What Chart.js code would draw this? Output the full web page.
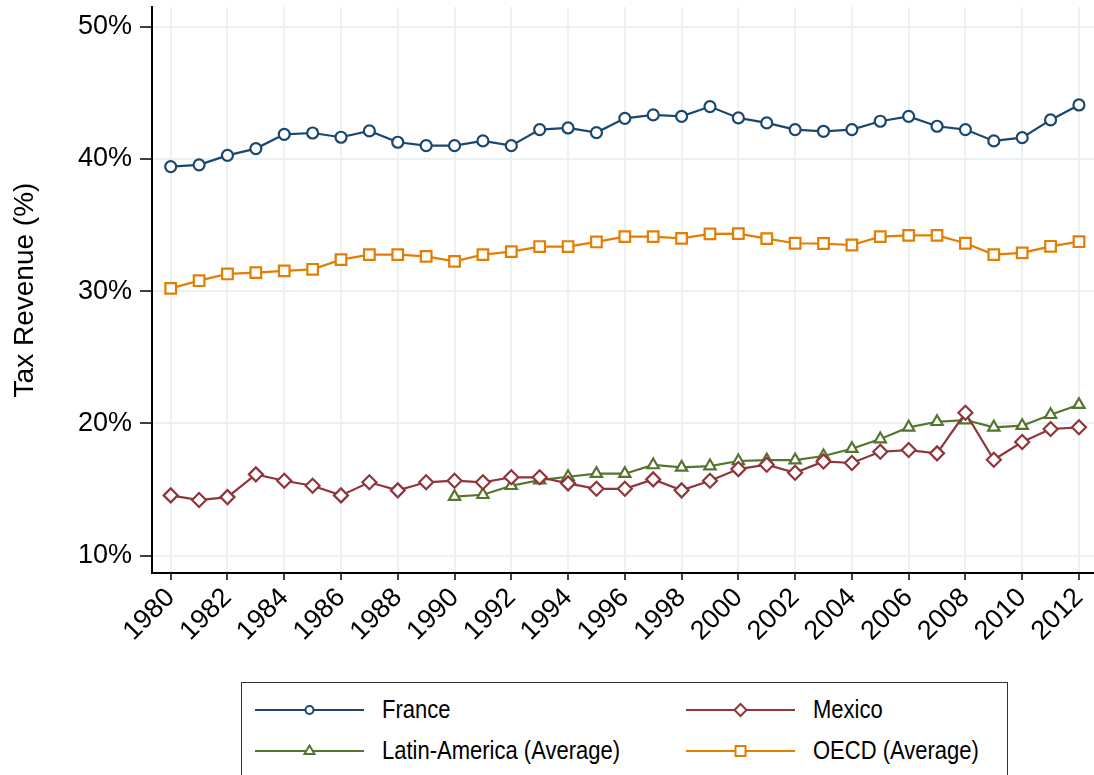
<!DOCTYPE html>
<html><head><meta charset="utf-8">
<script src="https://cdn.jsdelivr.net/npm/chart.js@4.4.1/dist/chart.umd.min.js"></script>
<style>
html,body{margin:0;padding:0;background:#fff;}
body{width:1094px;height:775px;overflow:hidden;position:relative;font-family:'Liberation Sans',Arial,Helvetica,sans-serif;}
#wrap{position:absolute;left:0;top:0;width:1094px;height:775px;}
#legend{position:absolute;left:241px;top:682px;width:767px;height:130px;border:1.5px solid #333;box-sizing:border-box;background:#fff;}
.item{position:absolute;height:34px;}
.item svg{position:absolute;left:0;top:0;}
.item span{position:absolute;top:50%;font-size:25px;line-height:25px;margin-top:-13px;color:#000;white-space:nowrap;transform:scaleX(0.88);transform-origin:left center;}
</style></head>
<body>
<div id="wrap"><canvas id="c" width="1094" height="775"></canvas></div>
<div id="legend"></div>
<script>
const years = [1980,1981,1982,1983,1984,1985,1986,1987,1988,1989,1990,1991,1992,1993,1994,1995,1996,1997,1998,1999,2000,2001,2002,2003,2004,2005,2006,2007,2008,2009,2010,2011,2012];
const france = [39.42,39.55,40.27,40.78,41.86,41.96,41.64,42.12,41.26,41.0,41.0,41.36,41.0,42.22,42.34,41.99,43.07,43.33,43.22,43.96,43.1,42.72,42.22,42.09,42.22,42.85,43.22,42.47,42.22,41.36,41.61,42.95,44.08];
const mexico = [14.55,14.2,14.42,16.14,15.66,15.28,14.55,15.54,14.93,15.54,15.66,15.54,15.92,15.92,15.46,15.05,15.05,15.76,14.93,15.66,16.54,16.87,16.26,17.12,17.0,17.85,17.98,17.73,20.8,17.25,18.59,19.57,19.7];
const latinAmerica = [null,null,null,null,null,null,null,null,null,null,14.45,14.6,15.28,15.71,15.96,16.19,16.19,16.85,16.67,16.77,17.15,17.22,17.22,17.53,18.08,18.81,19.7,20.12,20.25,19.7,19.82,20.65,21.41];
const oecd = [30.21,30.79,31.3,31.4,31.53,31.65,32.38,32.76,32.76,32.63,32.25,32.76,32.99,33.37,33.37,33.72,34.12,34.12,33.99,34.33,34.35,33.97,33.62,33.6,33.49,34.12,34.22,34.22,33.62,32.76,32.89,33.39,33.74];
const xTicks = [1980,1982,1984,1986,1988,1990,1992,1994,1996,1998,2000,2002,2004,2006,2008,2010,2012];
const yTicks = [10,20,30,40,50];
const seriesNames = ['France','Mexico','Latin-America (Average)','OECD (Average)'];

const FONT = "'Liberation Sans', Arial, Helvetica, sans-serif";
const toPoints = arr => years.map((yr,i)=>({x:yr,y:arr[i]})).filter(p=>p.y!==null);

const styles = [
  {color:'#1a476f', pointStyle:'circle', radius:5.5},
  {color:'#90353b', pointStyle:'rectRot', radius:7},
  {color:'#55752f', pointStyle:'triangle', radius:6.5},
  {color:'#e37e00', pointStyle:'rect', radius:7.5}
];
const values = [france, mexico, latinAmerica, oecd];

const datasets = values.map((v,i)=>({
  label: seriesNames[i],
  data: toPoints(v),
  borderColor: styles[i].color,
  backgroundColor: styles[i].color,
  pointBorderColor: styles[i].color,
  pointBackgroundColor: '#fff',
  pointStyle: styles[i].pointStyle,
  pointRadius: styles[i].radius,
  pointHoverRadius: styles[i].radius,
  pointBorderWidth: 2.2,
  borderWidth: 2.2,
  tension: 0,
  fill: false,
  clip: false
}));

new Chart(document.getElementById('c'), {
  type: 'line',
  data: { datasets },
  options: {
    responsive: false,
    animation: false,
    devicePixelRatio: 1,
    layout: { autoPadding: false, padding: { left: 0, right: 0, top: 7, bottom: 112 } },
    plugins: { legend: { display: false }, tooltip: { enabled: false } },
    scales: {
      x: {
        type: 'linear',
        min: 1979.341,
        max: 2012.53,
        afterBuildTicks: s => { s.ticks = xTicks.map(v=>({value:v})); },
        afterFit: s => { s.height = 90; s.paddingLeft = 0; s.paddingRight = 0; },
        grid: { color: '#eaf2f3', lineWidth: 2, tickColor: '#000', tickLength: 7, tickWidth: 1.5 },
        border: { display: true, color: '#000', width: 2 },
        ticks: {
          autoSkip: false, maxRotation: 45, minRotation: 45, padding: 2,
          color: '#000', font: { family: FONT, size: 27 },
          callback: v => String(v)
        }
      },
      y: {
        type: 'linear',
        min: 8.68,
        max: 51.49,
        afterBuildTicks: s => { s.ticks = yTicks.map(v=>({value:v})); },
        afterFit: s => { s.width = 152; s.paddingTop = 0; s.paddingBottom = 0; },
        grid: { color: '#eaf2f3', lineWidth: 2, tickColor: '#000', tickLength: 12, tickWidth: 1.5 },
        border: { display: true, color: '#000', width: 2 },
        ticks: {
          padding: 8, color: '#000', font: { family: FONT, size: 27 },
          callback: v => v + '%'
        },
        title: {
          display: true, text: 'Tax Revenue (%)', color: '#000',
          font: { family: FONT, size: 28 }, padding: { top: 8, bottom: 0 }
        }
      }
    }
  }
});

// HTML legend
const legend = document.getElementById('legend');
const pos = [
  {l:13, t:10, text:140},
  {l:444, t:10, text:571},
  {l:13, t:51, text:140},
  {l:444, t:51, text:571}
];
function markerSvg(st){
  const cx=54.5, cy=17, c=st.color;
  let m='';
  if(st.pointStyle==='circle') m=`<circle cx="${cx}" cy="${cy}" r="4" fill="#fff" stroke="${c}" stroke-width="2"/>`;
  if(st.pointStyle==='rectRot') m=`<polygon points="${cx-6},${cy} ${cx},${cy-6} ${cx+6},${cy} ${cx},${cy+6}" fill="#fff" stroke="${c}" stroke-width="2"/>`;
  if(st.pointStyle==='triangle') m=`<polygon points="${cx},${cy-5.5} ${cx+5},${cy+3} ${cx-5},${cy+3}" fill="#fff" stroke="${c}" stroke-width="2"/>`;
  if(st.pointStyle==='rect') m=`<rect x="${cx-5}" y="${cy-5}" width="10" height="10" fill="#fff" stroke="${c}" stroke-width="2"/>`;
  return `<svg width="109" height="34"><line x1="0" y1="${cy}" x2="109" y2="${cy}" stroke="${c}" stroke-width="2"/>${m}</svg>`;
}
seriesNames.forEach((name,i)=>{
  const d=document.createElement('div');
  d.className='item';
  d.style.left=pos[i].l+'px'; d.style.top=pos[i].t+'px'; d.style.width='400px';
  d.innerHTML = markerSvg(styles[i]) + `<span style="left:${pos[i].text-pos[i].l}px">${name}</span>`;
  legend.appendChild(d);
});
</script>
</body></html>
